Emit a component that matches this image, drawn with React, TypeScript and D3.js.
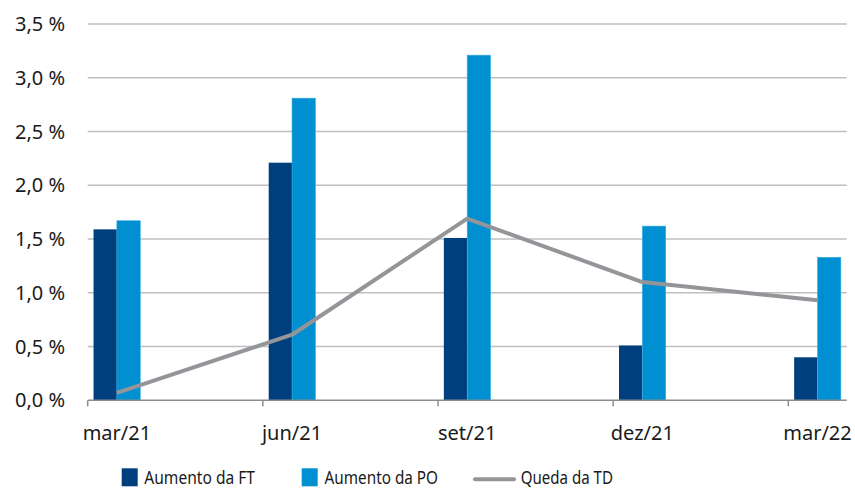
import React from "react";
import * as d3 from "d3";

const months = ["mar/21","abr/21","mai/21","jun/21","jul/21","ago/21","set/21","out/21","nov/21","dez/21","jan/22","fev/22","mar/22"];
const categories = ["mar/21", "jun/21", "set/21", "dez/21", "mar/22"];
const aumentoFT = [1.59, 2.21, 1.51, 0.51, 0.40];
const aumentoPO = [1.67, 2.81, 3.21, 1.62, 1.33];
const quedaTD = [0.07, 0.61, 1.69, 1.10, 0.93];
const yTicks = [0, 0.5, 1, 1.5, 2, 2.5, 3, 3.5];
const seriesNames = ["Aumento da FT", "Aumento da PO", "Queda da TD"];

const W = 855, H = 488;
const left = 87.7, right = 846.7, top = 24, bottom = 400.3;
const DARK = "#003f7d";
const LIGHT = "#008fd1";
const LINE = "#939598";
const FONT = "'Noto Sans', sans-serif";
const FS = 20;
const LFS = 18.5;

export default function App() {
  const x = d3.scaleBand<string>().domain(months).range([left, right]).paddingInner(0).paddingOuter(0);
  const inner = d3.scaleBand<string>().domain(["FT", "PO"]).range([0, x.bandwidth()]).paddingInner(0).paddingOuter(0.25);
  const y = d3.scaleLinear().domain([0, 3.5]).range([bottom, top]);
  const fmt = (v: number) => d3.format(".1f")(v).replace(".", ",") + " %";
  const line = d3.line<number>()
    .x((_, i) => (x(categories[i]) as number) + x.bandwidth() / 2)
    .y((d) => y(d));

  return (
    <svg width={W} height={H} style={{ position: "absolute", left: 0, top: 0, fontFamily: FONT }}>
      <rect width={W} height={H} fill="#fff" />
      {yTicks.filter((t) => t > 0).map((t) => (
        <line key={t} x1={left} x2={right} y1={y(t)} y2={y(t)} stroke="#bfbfbf" strokeWidth={1.5} />
      ))}
      {yTicks.map((t) => (
        <text key={"l" + t} x={65} y={y(t)} dy="0.35em" textAnchor="end" fontSize={FS} fill="#1a1a1a">{fmt(t)}</text>
      ))}
      {categories.map((c, i) => {
        const x0 = x(c) as number;
        return (
          <g key={c}>
            <rect x={x0 + (inner("FT") as number)} y={y(aumentoFT[i])} width={inner.bandwidth()} height={bottom - y(aumentoFT[i])} fill={DARK} />
            <rect x={x0 + (inner("PO") as number)} y={y(aumentoPO[i])} width={inner.bandwidth()} height={bottom - y(aumentoPO[i])} fill={LIGHT} stroke="#33aee3" strokeWidth={0.6} />
          </g>
        );
      })}
      <line x1={left} x2={right} y1={bottom} y2={bottom} stroke="#8c8c8c" strokeWidth={1.5} />
      {categories.map((c) => (
        <line key={"t" + c} x1={x(c) as number} x2={x(c) as number} y1={bottom} y2={bottom + 6} stroke="#8c8c8c" strokeWidth={1.5} />
      ))}
      {categories.map((c) => (
        <text key={"x" + c} x={(x(c) as number) + x.bandwidth() / 2} y={439.5} textAnchor="middle" fontSize={FS} fill="#1a1a1a">{c}</text>
      ))}
      <path d={line(quedaTD) || ""} fill="none" stroke={LINE} strokeWidth={4} strokeLinejoin="round" />
      {/* legend */}
      <rect x={121.7} y={468.3} width={16} height={18} fill={DARK} />
      <text x={144.3} y={484} fontSize={LFS} textLength={110.7} lengthAdjust="spacingAndGlyphs" fill="#1a1a1a">{seriesNames[0]}</text>
      <rect x={301.7} y={468.3} width={16} height={18} fill={LIGHT} />
      <text x={324.6} y={484} fontSize={LFS} textLength={113.4} lengthAdjust="spacingAndGlyphs" fill="#1a1a1a">{seriesNames[1]}</text>
      <line x1={475} x2={514} y1={479.3} y2={479.3} stroke={LINE} strokeWidth={4} strokeLinecap="round" />
      <text x={520.7} y={484} fontSize={LFS} textLength={92.3} lengthAdjust="spacingAndGlyphs" fill="#1a1a1a">{seriesNames[2]}</text>
    </svg>
  );
}
